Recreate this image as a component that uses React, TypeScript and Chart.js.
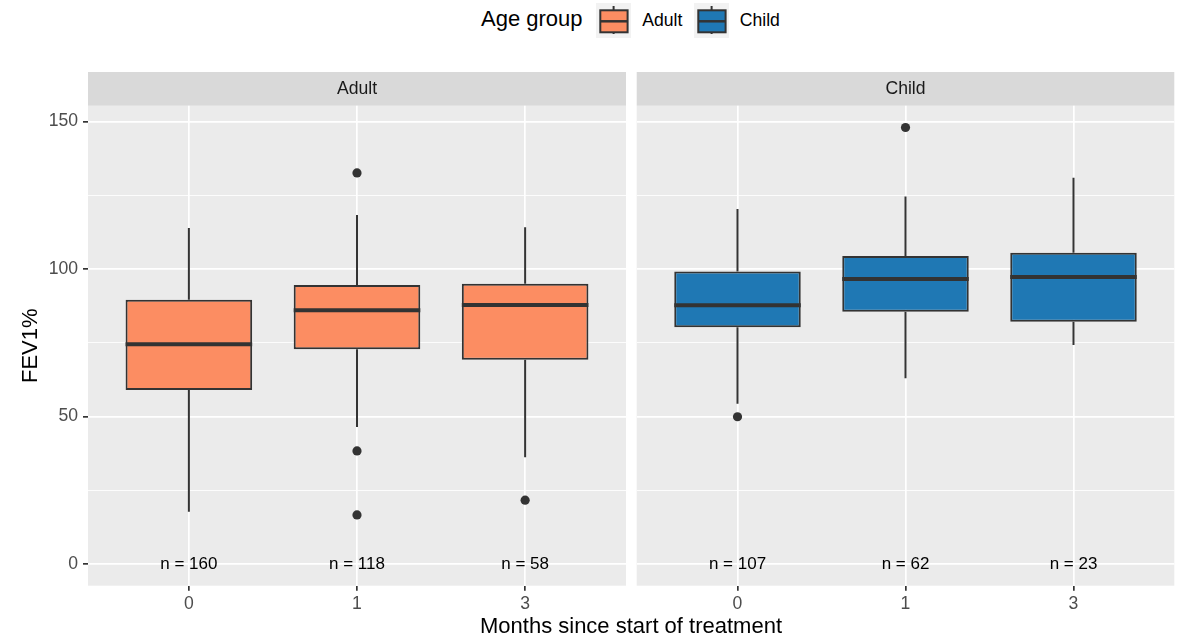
import React, { useEffect, useRef } from "react";
import { Chart, registerables } from "chart.js";

Chart.register(...registerables);

const FONT = "'Liberation Sans', Arial, Helvetica, sans-serif";
Chart.defaults.font.family = FONT;

// ---- data ----
const months = ["0", "1", "3"];
const positions = [1, 2, 3];
const yTicks = [0, 25, 50, 75, 100, 125, 150];
const yMin = -7.4;
const yMax = 155.4;

const adultN = [160, 118, 58];
const adultLower = [17.7, 46.4, 36.2];
const adultQ1 = [59.0, 72.8, 69.2];
const adultMedian = [74.5, 86.0, 87.8];
const adultQ3 = [89.6, 94.6, 95.0];
const adultUpper = [113.9, 118.3, 114.2];
const adultOutliers = [[], [132.6, 38.3, 16.6], [21.6]];

const childN = [107, 62, 23];
const childLower = [54.3, 63.0, 74.2];
const childQ1 = [80.3, 85.5, 82.1];
const childMedian = [87.7, 96.6, 97.3];
const childQ3 = [99.2, 104.4, 105.5];
const childUpper = [120.4, 124.6, 131.0];
const childOutliers = [[49.9], [148.0], []];

const ADULT = "#FC8D62";
const CHILD = "#1F78B4";
const DARK = "#333333";
const BOX_WIDTH = 0.753;

type PanelProps = {
  label: string;
  n: number[];
  lower: number[];
  q1: number[];
  median: number[];
  q3: number[];
  upper: number[];
  outliers: number[][];
  color: string;
  showY: boolean;
  left: number;
  width: number;
};

function Panel(props: PanelProps) {
  const ref = useRef<HTMLCanvasElement | null>(null);
  useEffect(() => {
    const { label, n, lower, q1, median, q3, upper, outliers, color, showY } = props;
    const boxes = positions.map((p, i) => ({ x: p, y: [q1[i], q3[i]] }));
    const whiskers: any[] = [];
    positions.forEach((p, i) => {
      whiskers.push({ x: p, y: upper[i] }, { x: p, y: q3[i] }, { x: p, y: null });
      whiskers.push({ x: p, y: q1[i] }, { x: p, y: lower[i] }, { x: p, y: null });
    });
    const meds: any[] = [];
    positions.forEach((p, i) => {
      meds.push({ x: p - BOX_WIDTH / 2, y: median[i] }, { x: p + BOX_WIDTH / 2, y: median[i] }, { x: p + 0.5, y: null });
    });
    const outs: any[] = [];
    positions.forEach((p, i) => outliers[i].forEach((v) => outs.push({ x: p, y: v })));

    const bgPlugin = {
      id: "panelBg",
      beforeDraw(chart: any) {
        const { ctx, chartArea } = chart;
        ctx.save();
        ctx.fillStyle = "#EBEBEB";
        ctx.fillRect(chartArea.left, chartArea.top, chartArea.right - chartArea.left, chartArea.bottom - chartArea.top);
        const sh = 33.7;
        ctx.fillStyle = "#D9D9D9";
        ctx.fillRect(chartArea.left, chartArea.top - sh, chartArea.right - chartArea.left, sh);
        ctx.fillStyle = "#1A1A1A";
        ctx.font = `17.6px ${FONT}`;
        ctx.textAlign = "center";
        ctx.textBaseline = "middle";
        ctx.fillText(label, (chartArea.left + chartArea.right) / 2, chartArea.top - sh / 2);
        ctx.restore();
      },
    };
    const nPlugin = {
      id: "nLabels",
      afterDatasetsDraw(chart: any) {
        const { ctx } = chart;
        const xs = chart.scales.x;
        const ys = chart.scales.y;
        ctx.save();
        ctx.fillStyle = "#000000";
        ctx.font = `17px ${FONT}`;
        ctx.textAlign = "center";
        ctx.textBaseline = "middle";
        positions.forEach((p, i) => {
          ctx.fillText(`n = ${n[i]}`, xs.getPixelForValue(p), ys.getPixelForValue(0));
        });
        ctx.restore();
      },
    };

    const chart = new Chart(ref.current as HTMLCanvasElement, {
      type: "bar",
      data: {
        datasets: [
          {
            type: "line",
            data: whiskers,
            borderColor: DARK,
            borderWidth: 2,
            pointRadius: 0,
            spanGaps: false,
            order: 4,
          } as any,
          {
            type: "bar",
            data: boxes,
            backgroundColor: color,
            borderColor: DARK,
            borderWidth: 2,
            borderSkipped: false,
            barPercentage: 1,
            categoryPercentage: BOX_WIDTH,
            order: 3,
          } as any,
          {
            type: "line",
            data: meds,
            borderColor: DARK,
            borderWidth: 4,
            pointRadius: 0,
            spanGaps: false,
            order: 2,
          } as any,
          {
            type: "scatter",
            data: outs,
            backgroundColor: DARK,
            borderWidth: 0,
            pointRadius: 4.6,
            order: 1,
          } as any,
        ],
      },
      options: {
        animation: false,
        responsive: false,
        events: [],
        layout: {
          padding: { top: 45.7, left: showY ? 0 : 5.7, right: showY ? 5 : 5.7, bottom: 0 },
        },
        plugins: {
          legend: { display: false },
          tooltip: { enabled: false },
        },
        scales: {
          x: {
            type: "linear",
            min: 0.4,
            max: 3.6,
            offset: false,
            afterBuildTicks: (s: any) => {
              s.ticks = positions.map((v) => ({ value: v }));
            },
            afterFit: (s: any) => {
              s.height = 51.3;
            },
            ticks: {
              autoSkip: false,
              maxRotation: 0,
              padding: 3,
              color: "#4D4D4D",
              font: { size: 17.6, family: FONT },
              callback: (v: any) => months[positions.indexOf(Number(v))],
            },
            grid: {
              offset: false,
              color: "#FFFFFF",
              lineWidth: 1.7,
              tickColor: DARK,
              tickWidth: 1.7,
              tickLength: 5,
            },
            border: { display: false },
          } as any,
          y: {
            type: "linear",
            min: yMin,
            max: yMax,
            afterBuildTicks: (s: any) => {
              s.ticks = yTicks.map((v) => ({ value: v }));
            },
            afterFit: (s: any) => {
              s.width = showY ? 88 : 0;
            },
            ticks: {
              display: showY,
              padding: 5,
              color: "#4D4D4D",
              font: { size: 17.6, family: FONT },
              callback: (v: any) => (Number(v) % 50 === 0 ? String(v) : ""),
            },
            grid: {
              color: "#FFFFFF",
              lineWidth: (ctx: any) => (ctx.tick && ctx.tick.value % 50 === 0 ? 1.7 : 0.85),
              drawTicks: showY,
              tickColor: (ctx: any) => (ctx.tick && ctx.tick.value % 50 === 0 ? DARK : "rgba(0,0,0,0)"),
              tickWidth: 1.7,
              tickLength: 5,
            },
            border: { display: false },
            title: {
              display: showY,
              text: "FEV1%",
              color: "#000000",
              font: { size: 22, family: FONT },
              padding: { top: 18, bottom: 0 },
            },
          } as any,
        },
      },
      plugins: [bgPlugin, nPlugin],
    });
    return () => chart.destroy();
  }, []);
  return (
    <canvas
      ref={ref}
      width={props.width}
      height={577}
      style={{ position: "absolute", left: props.left, top: 60, width: props.width, height: 577 }}
    />
  );
}

function LegendKey({ left, color }: { left: number; color: string }) {
  return (
    <svg
      width={35}
      height={35}
      style={{ position: "absolute", left, top: 2.7, background: "#F2F2F2" }}
    >
      <line x1={17.6} y1={3} x2={17.6} y2={31} stroke={DARK} strokeWidth={2} />
      <rect x={4.3} y={7.3} width={27.3} height={22} fill={color} stroke={DARK} strokeWidth={2} />
      <line x1={4.3} y1={18.3} x2={31.6} y2={18.3} stroke={DARK} strokeWidth={2.5} />
    </svg>
  );
}

export default function App() {
  const textBase: React.CSSProperties = {
    position: "absolute",
    fontFamily: FONT,
    lineHeight: 1,
    whiteSpace: "nowrap",
    color: "#000",
  };
  return (
    <div style={{ position: "absolute", left: 0, top: 0, width: 1180, height: 637, background: "#FFFFFF", overflow: "hidden" }}>
      <div style={{ ...textBase, left: 481, top: 8.4, fontSize: 22 }}>Age group</div>
      <LegendKey left={595.7} color={ADULT} />
      <div style={{ ...textBase, left: 642.3, top: 11.8, fontSize: 17.6 }}>Adult</div>
      <LegendKey left={694} color={CHILD} />
      <div style={{ ...textBase, left: 739.8, top: 11.8, fontSize: 17.6 }}>Child</div>

      <Panel
        label="Adult"
        n={adultN}
        lower={adultLower}
        q1={adultQ1}
        median={adultMedian}
        q3={adultQ3}
        upper={adultUpper}
        outliers={adultOutliers}
        color={ADULT}
        showY={true}
        left={0}
        width={631}
      />
      <Panel
        label="Child"
        n={childN}
        lower={childLower}
        q1={childQ1}
        median={childMedian}
        q3={childQ3}
        upper={childUpper}
        outliers={childOutliers}
        color={CHILD}
        showY={false}
        left={631}
        width={549}
      />
      <div style={{ ...textBase, left: 631, top: 615.4, fontSize: 22, transform: "translateX(-50%)" }}>
        Months since start of treatment
      </div>
    </div>
  );
}
